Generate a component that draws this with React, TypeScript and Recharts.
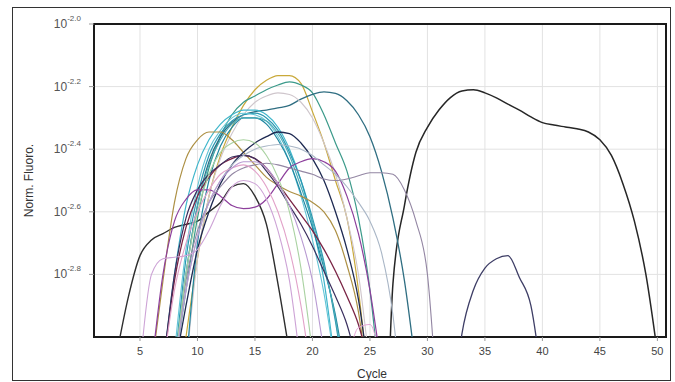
import React from "react";
import { LineChart, Line, XAxis, YAxis, CartesianGrid, ReferenceArea, Label } from "recharts";

// x ticks (cycles) and y ticks (log10 of normalized fluorescence)
const xTicks = [5, 10, 15, 20, 25, 30, 35, 40, 45, 50];
const yTicks = [-2.8, -2.6, -2.4, -2.2, -2.0];
const yTickLabels = ["-2.8", "-2.6", "-2.4", "-2.2", "-2.0"];

// each curve: log10(Norm. Fluoro.) per cycle, starting at the cycle given in `starts`
const blackEarly = [-3.05, -2.87, -2.74, -2.69, -2.67, -2.65, -2.64, -2.63, -2.6, -2.57, -2.52, -2.51, -2.55, -2.64, -2.83, -3.05];
const blackLate = [-4.0, -2.83, -2.58, -2.41, -2.33, -2.275, -2.235, -2.214, -2.21, -2.22, -2.236, -2.256, -2.275, -2.297, -2.315, -2.323, -2.329, -2.335, -2.345, -2.37, -2.42, -2.51, -2.63, -2.8, -3.05];
const navyHump = [-3.3, -2.99, -2.85, -2.78, -2.75, -2.74, -2.81, -2.9, -3.15];
const gold = [-3.0, -2.75, -2.55, -2.42, -2.33, -2.26, -2.21, -2.18, -2.165, -2.165, -2.19, -2.28, -2.38, -2.5, -2.62, -2.85, -3.2];
const tealGreen = [-3.1, -2.85, -2.62, -2.46, -2.36, -2.29, -2.25, -2.23, -2.21, -2.195, -2.185, -2.195, -2.22, -2.29, -2.38, -2.47, -2.62, -2.85, -3.2];
const darkTeal = [-3.1, -2.8, -2.58, -2.44, -2.36, -2.315, -2.29, -2.28, -2.275, -2.268, -2.26, -2.24, -2.225, -2.217, -2.222, -2.245, -2.29, -2.36, -2.47, -2.62, -2.82, -3.1];
const lightGray = [-3.1, -2.75, -2.55, -2.43, -2.35, -2.29, -2.25, -2.23, -2.22, -2.225, -2.25, -2.3, -2.38, -2.48, -2.62, -2.8, -3.1];
const cyan1 = [-3.1, -2.8, -2.58, -2.45, -2.37, -2.32, -2.29, -2.275, -2.275, -2.29, -2.33, -2.4, -2.5, -2.64, -2.82, -3.1];
const cyan2 = [-3.1, -2.75, -2.55, -2.42, -2.35, -2.31, -2.29, -2.285, -2.3, -2.34, -2.41, -2.5, -2.62, -2.76, -2.95, -3.2];
const cyan3 = [-3.05, -2.72, -2.52, -2.4, -2.34, -2.3, -2.285, -2.29, -2.31, -2.36, -2.44, -2.55, -2.69, -2.86, -3.1];
const cyan4 = [-3.1, -2.7, -2.5, -2.39, -2.33, -2.3, -2.3, -2.32, -2.37, -2.44, -2.54, -2.65, -2.78, -2.93, -3.15];
const cyan5 = [-3.1, -2.8, -2.58, -2.45, -2.37, -2.32, -2.3, -2.3, -2.31, -2.35, -2.42, -2.52, -2.63, -2.77, -2.94, -3.2];
const olive = [-3.1, -2.82, -2.57, -2.43, -2.37, -2.345, -2.345, -2.37, -2.41, -2.45, -2.49, -2.515, -2.535, -2.55, -2.57, -2.6, -2.66, -2.77, -2.92, -3.2];
const maroon = [-3.1, -2.82, -2.65, -2.55, -2.49, -2.45, -2.43, -2.42, -2.43, -2.46, -2.51, -2.56, -2.61, -2.66, -2.72, -2.79, -2.87, -2.96, -3.1];
const navy1 = [-3.1, -2.9, -2.72, -2.6, -2.51, -2.45, -2.41, -2.38, -2.36, -2.345, -2.35, -2.38, -2.43, -2.5, -2.6, -2.72, -2.88, -3.15];
const navy2 = [-3.1, -2.8, -2.62, -2.53, -2.48, -2.45, -2.425, -2.42, -2.43, -2.47, -2.52, -2.58, -2.64, -2.71, -2.79, -2.87, -2.96, -3.1];
const purpleDip = [-3.1, -2.8, -2.63, -2.56, -2.53, -2.53, -2.55, -2.58, -2.59, -2.585, -2.56, -2.51, -2.46, -2.44, -2.43, -2.44, -2.47, -2.55, -2.67, -2.85, -3.1];
const mauve = [-3.1, -2.82, -2.66, -2.57, -2.52, -2.48, -2.46, -2.45, -2.445, -2.45, -2.46, -2.47, -2.48, -2.495, -2.5, -2.495, -2.485, -2.475, -2.475, -2.48, -2.53, -2.63, -2.8, -3.3];
const grayBlue = [-3.1, -2.85, -2.68, -2.57, -2.5, -2.45, -2.42, -2.4, -2.39, -2.385, -2.39, -2.4, -2.42, -2.45, -2.48, -2.52, -2.57, -2.63, -2.73, -2.93, -3.3];
const paleGreen = [-3.1, -2.8, -2.6, -2.48, -2.41, -2.38, -2.37, -2.38, -2.42, -2.49, -2.6, -2.78, -3.05];
const lavenderLow = [-3.1, -2.8, -2.75, -2.745, -2.74, -2.72, -2.66, -2.58, -2.52, -2.5, -2.51, -2.56, -2.66, -2.82, -3.1];
const pink = [-3.1, -2.85, -2.7, -2.6, -2.53, -2.48, -2.46, -2.45, -2.47, -2.52, -2.6, -2.72, -2.9, -3.15];
const lavender = [-3.1, -2.85, -2.68, -2.57, -2.5, -2.46, -2.44, -2.44, -2.46, -2.51, -2.58, -2.68, -2.82, -3.05];
const pinkLoop = [-3.1, -2.97, -2.96, -3.1];

const series = [blackEarly, blackLate, navyHump, gold, tealGreen, darkTeal, lightGray, cyan1, cyan2, cyan3, cyan4, cyan5, olive, maroon, navy1, navy2, purpleDip, mauve, grayBlue, paleGreen, lavenderLow, pink, lavender, pinkLoop];
const starts = [3, 26, 32, 9, 8, 8, 9, 7, 8, 8, 9, 8, 6, 7, 8, 7, 6, 8, 8, 8, 5, 7, 8, 23];
const colors = ["#2e2e2e", "#262626", "#3e3e66", "#c9a93a", "#3b9a8a", "#2f6e82", "#cfc6cc", "#3fb6cb", "#2a98b2", "#63c5d6", "#1f86a1", "#4aaab6", "#ad9044", "#7a2445", "#1e2a52", "#3a2f5e", "#8d3f9c", "#9386a3", "#a9b6c6", "#a9d2a1", "#cda3d6", "#e2a2c9", "#b89ad2", "#e6a6d6"];
const widths = [1.4, 1.5, 1.3, 1.2, 1.2, 1.3, 1.1, 1.2, 1.2, 1.1, 1.2, 1.1, 1.2, 1.3, 1.3, 1.2, 1.2, 1.1, 1.1, 1.1, 1.1, 1.1, 1.1, 1];

const rows: Record<string, number>[] = [];
for (let c = 1; c <= 50; c++) {
  const row: Record<string, number> = { cycle: c };
  series.forEach((arr, i) => {
    const idx = c - starts[i];
    if (idx >= 0 && idx < arr.length) row["s" + i] = arr[idx];
  });
  rows.push(row);
}

const FONT = "'Liberation Sans', Arial, sans-serif";

const YTick = (props: any) => {
  const { x, y, payload } = props;
  const i = yTicks.indexOf(payload.value);
  const sup = i >= 0 ? yTickLabels[i] : String(payload.value);
  return (
    <text x={x - 6} y={y} textAnchor="end" fontFamily={FONT} fill="#555" fontSize={12}>
      <tspan dy={4} fill="#555">10</tspan>
      <tspan dy={-7} fontSize={8} fill="#555">{sup}</tspan>
    </text>
  );
};

export default function App() {
  return (
    <div style={{ position: "fixed", left: 0, top: 0, width: 675, height: 382, background: "#fff" }}>
      <LineChart
        width={675}
        height={382}
        data={rows}
        margin={{ top: 24, right: 9, bottom: 0, left: 10 }}
      >
        <CartesianGrid stroke="#e2e2e2" strokeWidth={1} />
        <XAxis
          dataKey="cycle"
          type="number"
          domain={[1, 50.75]}
          ticks={xTicks}
          allowDataOverflow
          height={45}
          tick={{ fontSize: 11, fill: "#444", fontFamily: FONT }}
          tickLine={{ stroke: "#999" }}
          tickSize={4}
          tickMargin={6}
          axisLine={false}
        >
          <Label value="Cycle" position="insideBottom" offset={4} dx={-8} style={{ fontSize: 12, fill: "#333", fontFamily: FONT }} />
        </XAxis>
        <YAxis
          type="number"
          domain={[-3, -2]}
          ticks={yTicks}
          allowDataOverflow
          width={84}
          tick={<YTick />}
          tickLine={{ stroke: "#999" }}
          tickSize={5}
          axisLine={false}
        >
          <Label value="Norm. Fluoro." angle={-90} position="insideLeft" offset={19} style={{ fontSize: 12, fill: "#333", fontFamily: FONT, textAnchor: "middle" }} />
        </YAxis>
        {series.map((_, i) => (
          <Line
            key={i}
            dataKey={"s" + i}
            type="monotone"
            stroke={colors[i]}
            strokeWidth={widths[i]}
            dot={false}
            isAnimationActive={false}
            connectNulls={false}
          />
        ))}
        <ReferenceArea x1={1} x2={50.75} y1={-3} y2={-2} fill="none" stroke="#1a1a1a" strokeWidth={2} ifOverflow="visible" />
      </LineChart>
      <div
        style={{
          position: "absolute",
          left: 12,
          top: 7,
          width: 659,
          height: 374,
          border: "1.5px solid #333",
          boxSizing: "border-box",
          pointerEvents: "none",
        }}
      />
    </div>
  );
}
